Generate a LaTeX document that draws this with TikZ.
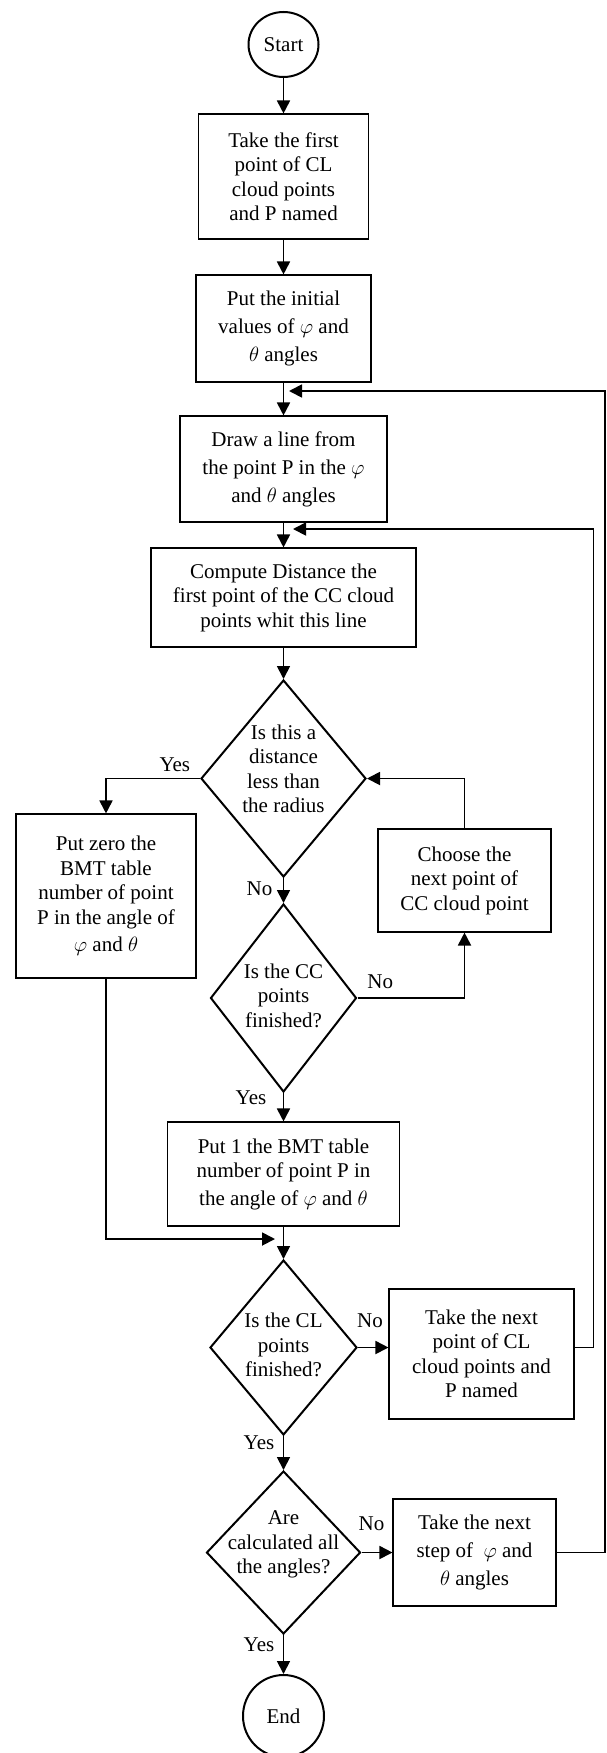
\documentclass[tikz,border=0pt]{standalone}
\usepackage{fontspec}
\setmainfont{Liberation Serif}
\usetikzlibrary{shapes.geometric, arrows.meta, positioning}

% text of a diamond, kept out of its size
\newcommand{\dtext}[2][-5pt]{\makebox[0pt]{\smash{\raisebox{#1}{\begin{tabular}{@{}c@{}}#2\end{tabular}}}}}

\begin{document}
\begin{tikzpicture}[x=1pt, y=1pt, font=\fontsize{21}{24.5}\selectfont,
    process/.style={draw, rectangle, line width=1.1pt, align=center},
    decision/.style={draw, diamond, line width=2pt, inner sep=0pt},
    terminal/.style={draw, ellipse, line width=2pt, inner sep=0pt},
    arrow/.style={line width=1.8pt, -{Triangle[length=13pt, width=13pt]}}]  % Begins the flowchart with its styles

    \useasboundingbox (0,0) rectangle (606,-1753);  % Fixes the page size

    % Nodes
    \node (start) [terminal, minimum width=70pt, minimum height=65pt] at (283.5,-44.5) {Start};  % Start of the chart
    \node (takefirst) [process, below of=start, node distance=132pt, minimum width=170pt, minimum height=125pt] {Take the first\\point of CL\\cloud points\\and P named};  % First CL point
    \node (initvalues) [process, below of=takefirst, node distance=152pt, minimum width=175pt, minimum height=107pt, font=\fontsize{21}{28}\selectfont] {Put the initial\\values of $\varphi$ and\\$\theta$ angles};  % Initial angles
    \node (drawline) [process, below of=initvalues, node distance=140.5pt, minimum width=207pt, minimum height=106pt, font=\fontsize{21}{28}\selectfont] {Draw a line from\\the point P in the $\varphi$\\and $\theta$ angles};  % Line from P
    \node (compdist) [process, below of=drawline, node distance=128.5pt, minimum width=265pt, minimum height=99pt] {Compute Distance the\\first point of the CC cloud\\points whit this line};  % Distance to the line
    \node (check1) [decision, below of=compdist, node distance=181pt, minimum width=165pt, minimum height=197pt] {\dtext[2pt]{Is this a\\distance\\less than\\the radius}};  % Distance test
    \node (check2) [decision, below of=check1, node distance=219.5pt, minimum width=146pt, minimum height=188pt] {\dtext{Is the CC\\points\\finished?}};  % CC points test
    \node (putone) [process, below of=check2, node distance=176pt, minimum width=232pt, minimum height=104pt] {Put 1 the BMT table\\number of point P in\\[3pt]the angle of $\varphi$ and $\theta$};  % Table gets 1
    \node (check3) [decision, below of=putone, node distance=173.5pt, minimum width=147pt, minimum height=175pt] {\dtext{Is the CL\\points\\finished?}};  % CL points test
    \node (check4) [decision, below of=check3, node distance=205pt, minimum width=154pt, minimum height=163pt] {\dtext[3pt]{Are\\calculated all\\the angles?}};  % Angles test
    \node (end) [terminal, below of=check4, node distance=163.5pt, minimum width=81pt, minimum height=82pt] {End};  % End of the chart
    \node (putzero) [process, minimum width=180pt, minimum height=164pt] at (106,-896) {Put zero the\\BMT table\\number of point\\P in the angle of\\[3pt]$\varphi$ and $\theta$};  % Table gets 0
    \node (choosenext) [process, minimum width=173pt, minimum height=103pt] at (464.5,-880.5) {Choose the\\next point of\\CC cloud point};  % Next CC point
    \node (nextpoint) [process, minimum width=185pt, minimum height=130pt] at (481.5,-1354) {Take the next\\point of CL\\cloud points and\\P named};  % Next CL point
    \node (nextstep) [process, minimum width=163pt, minimum height=107pt, font=\fontsize{21}{28}\selectfont] at (474.5,-1552.5) {Take the next\\step of \ $\varphi$ and\\$\theta$ angles};  % Next angle step

    \coordinate (loopa) at (289,-391);  % Return above drawline
    \coordinate (loopb) at (293,-529);  % Return above compdist
    \coordinate (join) at (275,-1239);  % Merge above check3

    % Arrows
    \draw [arrow] (start) -- (takefirst);
    \draw [arrow] (takefirst) -- (initvalues);
    \draw [arrow] (initvalues) -- (drawline);
    \draw [arrow] (drawline) -- (compdist);
    \draw [arrow] (compdist) -- (check1);
    \draw [arrow] (check1.west) node[above left, xshift=-5.7pt, yshift=3pt] {Yes} -| (putzero.north);  % Yes branch
    \draw [arrow] (check1.south) node[below left, xshift=-7pt] {No} -- (check2.north);
    \draw [arrow] (check2.east) node[above right, xshift=5.7pt, yshift=4.7pt] {No} -| (choosenext.south);
    \draw [arrow] (choosenext.north) |- (check1.east);  % Back to the distance test
    \draw [arrow] (check2.south) node[left, xshift=-13pt, yshift=-5pt] {Yes} -- (putone.north);
    \draw [arrow] (putzero.south) |- (join);
    \draw [arrow] (putone) -- (check3);
    \draw [arrow] (check3.east) node[above right, xshift=-5pt, yshift=15.7pt] {No} -- (check3.east -| nextpoint.west);
    \draw [arrow] (nextpoint.east |- check3.east) -- ++(19,0) |- (loopb);  % Back to compdist
    \draw [arrow] (check3.south) node[below left, xshift=-5pt, yshift=5pt] {Yes} -- (check4.north);
    \draw [arrow] (check4.east) node[above right, xshift=-7pt, yshift=17.7pt] {No} -- (nextstep.west);
    \draw [arrow] (nextstep.east) -- ++(48.5,0) |- (loopa);  % Back to drawline
    \draw [arrow] (check4.south) node[below left, xshift=-5pt, yshift=2pt] {Yes} -- (end.north);
\end{tikzpicture}
\end{document}
